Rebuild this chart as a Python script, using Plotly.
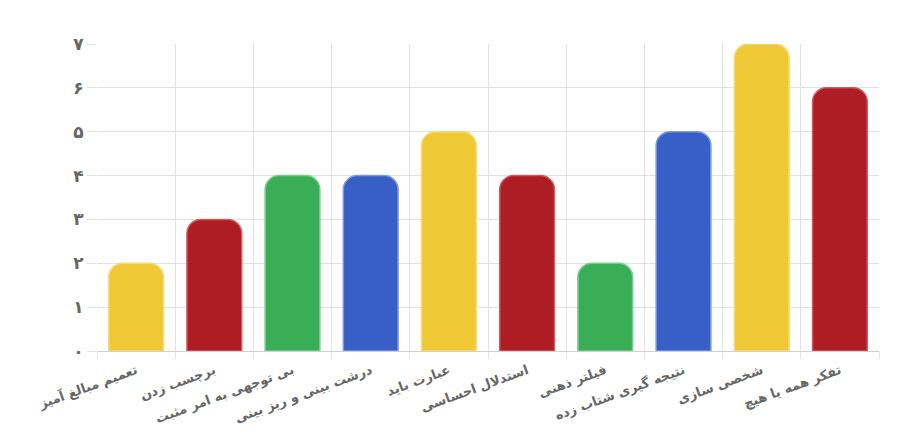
import plotly.graph_objects as go

CATEGORIES = [
    "تعمیم مبالغ آمیز",
    "برچسب زدن",
    "بی توجهی به امر مثبت",
    "درشت بینی و ریز بینی",
    "عبارت باید",
    "استدلال احساسی",
    "فیلتر ذهنی",
    "نتیجه گیری شتاب زده",
    "شخصی سازی",
    "تفکر همه یا هیچ",
]
VALUES = [2, 3, 4, 4, 5, 4, 2, 5, 7, 6]
Y_TICKS = [0, 1, 2, 3, 4, 5, 6, 7]
Y_TICK_TEXT = ["۰", "۱", "۲", "۳", "۴", "۵", "۶", "۷"]

YELLOW, RED, GREEN, BLUE = "#EFC835", "#AD1D23", "#3AAE57", "#375FC5"
PALETTE = [YELLOW, RED, GREEN, BLUE]
EDGE = {YELLOW: "#F6DB77", RED: "#CF5A5F", GREEN: "#7ACC8E", BLUE: "#7C98E0"}

colors = [PALETTE[i % 4] for i in range(len(VALUES))]
edges = [EDGE[c] for c in colors]

INK = "#666666"
GRID = "#E2E2E2"
FONT = "DejaVu Sans, sans-serif"

fig = go.Figure(
    go.Bar(
        x=CATEGORIES,
        y=VALUES,
        width=0.7,
        marker=dict(color=colors, line=dict(color=edges, width=1.5), cornerradius=14),
        hoverinfo="x+y",
    )
)

# body de la page = 8px de marge, d'où le décalage
fig.update_layout(
    width=920,
    height=433,
    margin=dict(l=89, r=49, t=36, b=90),
    paper_bgcolor="white",
    plot_bgcolor="white",
    font=dict(family=FONT, size=13, color=INK),
    showlegend=False,
    bargap=0.3,
)
fig.update_xaxes(
    automargin=False,
    tickson="boundaries",
    showgrid=True,
    gridcolor=GRID,
    gridwidth=1,
    ticks="outside",
    ticklen=7,
    tickcolor=GRID,
    tickangle=-20,
    ticklabelstandoff=6,
    showline=True,
    linecolor="#D0D0D0",
    tickfont=dict(family=FONT, size=13, color=INK, weight="bold"),
)
fig.update_yaxes(
    automargin=False,
    range=[0, 7],
    tickvals=Y_TICKS,
    ticktext=Y_TICK_TEXT,
    showgrid=True,
    gridcolor=GRID,
    zeroline=False,
    ticks="outside",
    ticklen=9,
    tickcolor=GRID,
    tickfont=dict(family=FONT, size=17, color=INK, weight="bold"),
)

fig.write_html("out.html")
